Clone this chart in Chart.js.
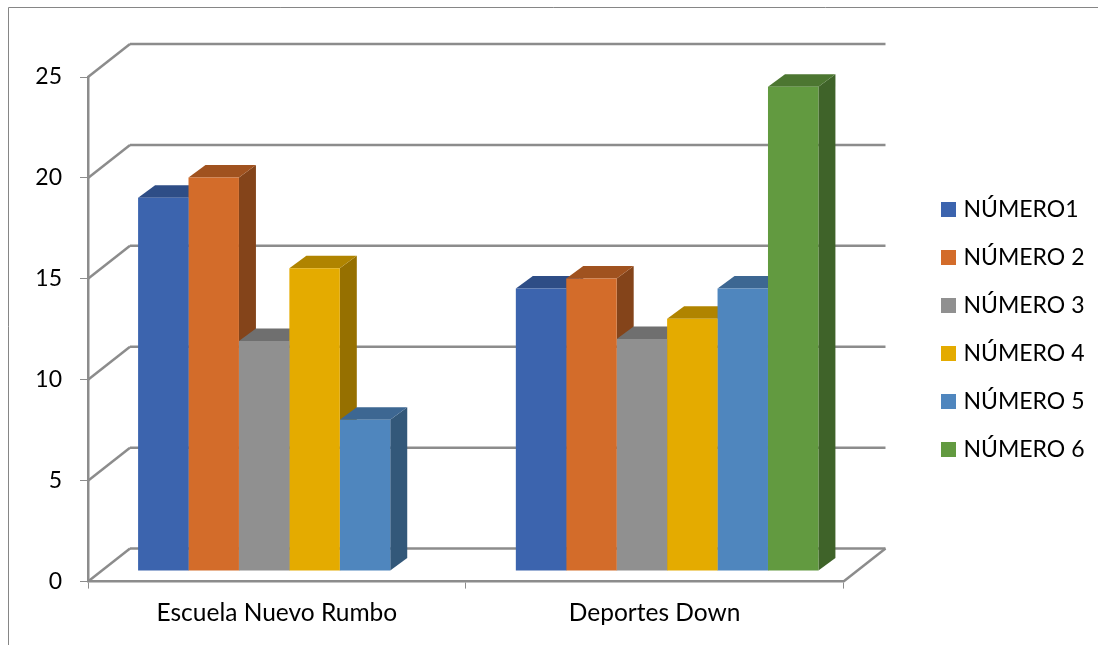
<!DOCTYPE html>
<html>
<head>
<meta charset="utf-8">
<title>Chart</title>
<script src="https://cdn.jsdelivr.net/npm/chart.js@4"></script>
<style>
    body { margin: 0; background: #fff; }
    canvas { display: block; }
</style>
</head>
<body>
<canvas id="barChart" width="1098" height="645"></canvas>
<script>
const CATEGORIES = ['Escuela Nuevo Rumbo', 'Deportes Down'];
const SERIES_NAMES = ['NÚMERO1', 'NÚMERO 2', 'NÚMERO 3', 'NÚMERO 4', 'NÚMERO 5', 'NÚMERO 6'];

const NUMERO_1 = [18.5, 14];
const NUMERO_2 = [19.5, 14.5];
const NUMERO_3 = [11.4, 11.5];
const NUMERO_4 = [15, 12.5];
const NUMERO_5 = [7.5, 14];
const NUMERO_6 = [null, 24];

const Y_TICK_STEP = 5;
const Y_MAX = 25;

const FRONT_COLORS = ['#3C64AE', '#D36C2A', '#909090', '#E4AB00', '#4F86BE', '#629A40'];
const TOP_COLORS = ['#2E4D86', '#A0521F', '#6F6F6F', '#B08400', '#3D6792', '#4C7631'];
const SIDE_COLORS = ['#274270', '#84441A', '#5E5E5E', '#967000', '#335879', '#3F6329'];

const AXIS_COLOR = '#8C8C8C';
const AXIS_WIDTH = 2.5;
const FONT_FAMILY = 'Lato, "Open Sans", sans-serif';

// Box depth of the plot floor and of the columns
const WALL_DX = 42;
const WALL_DY = -33;
const BAR_DX = 17;
const BAR_DY = -12.5;
// Columns stand in the middle of the floor, not on the front edge
const BAR_SHIFT_X = 12.5;
const BAR_SHIFT_Y = -10.5;

function line(ctx, x1, y1, x2, y2) {
    ctx.beginPath();
    ctx.moveTo(x1, y1);
    ctx.lineTo(x2, y2);
    ctx.stroke();
}

function polygon(ctx, color, points) {
    ctx.fillStyle = color;
    ctx.beginPath();
    points.forEach(([x, y], i) => (i ? ctx.lineTo(x, y) : ctx.moveTo(x, y)));
    ctx.closePath();
    ctx.fill();
}

/* outer frame, only top and left edges are visible */
const framePlugin = {
    id: 'frame',
    beforeDraw(chart) {
        const ctx = chart.ctx;
        ctx.save();
        ctx.strokeStyle = '#868686';
        ctx.lineWidth = 1;
        line(ctx, 8.5, 645, 8.5, 7.5);
        line(ctx, 8.5, 7.5, 1098, 7.5);
        ctx.restore();
    }
};

/* back wall gridlines, the diagonals to the front axis and the floor edge */
const wallPlugin = {
    id: 'wall',
    beforeDatasetsDraw(chart) {
        const ctx = chart.ctx;
        const { left, right } = chart.chartArea;
        const yScale = chart.scales.y;

        ctx.save();
        ctx.strokeStyle = AXIS_COLOR;
        ctx.lineWidth = AXIS_WIDTH;
        for (let v = 0; v <= Y_MAX; v += Y_TICK_STEP) {
            const y = yScale.getPixelForValue(v);
            line(ctx, left, y, left + WALL_DX, y + WALL_DY);
            line(ctx, left + WALL_DX, y + WALL_DY, right + WALL_DX, y + WALL_DY);
        }
        const floorY = yScale.getPixelForValue(0);
        line(ctx, right, floorY, right + WALL_DX, floorY + WALL_DY);
        ctx.restore();
    }
};

/* top and side faces of every column, fronts are painted over them by the bars */
const columnPlugin = {
    id: 'columns',
    beforeDatasetsDraw(chart) {
        const ctx = chart.ctx;
        ctx.save();
        ctx.translate(BAR_SHIFT_X, BAR_SHIFT_Y);
        chart.data.datasets.forEach((ds, d) => {
            chart.getDatasetMeta(d).data.forEach((bar, i) => {
                if (ds.data[i] === null) return;
                const x1 = bar.x - bar.width / 2;
                const x2 = bar.x + bar.width / 2;
                polygon(ctx, SIDE_COLORS[d], [
                    [x2, bar.y], [x2 + BAR_DX, bar.y + BAR_DY],
                    [x2 + BAR_DX, bar.base + BAR_DY], [x2, bar.base]
                ]);
                polygon(ctx, TOP_COLORS[d], [
                    [x1, bar.y], [x1 + BAR_DX, bar.y + BAR_DY],
                    [x2 + BAR_DX, bar.y + BAR_DY], [x2, bar.y]
                ]);
            });
        });
    },
    afterDatasetsDraw(chart) {
        chart.ctx.restore();
    }
};

/* legend column: fixed left edge, centred a little below the middle of the canvas */
const legendPlugin = {
    id: 'legendPlace',
    afterLayout(chart) {
        const legend = chart.legend;
        const h = legend.bottom - legend.top;
        const w = legend.right - legend.left;
        legend.top = 329.5 - h / 2;
        legend.bottom = legend.top + h;
        legend.left = 920;
        legend.right = legend.left + w;
    }
};

const seriesValues = [NUMERO_1, NUMERO_2, NUMERO_3, NUMERO_4, NUMERO_5, NUMERO_6];

new Chart(document.getElementById('barChart'), {
    type: 'bar',
    data: {
        labels: CATEGORIES,
        datasets: SERIES_NAMES.map((name, i) => ({
            label: name,
            data: seriesValues[i],
            backgroundColor: FRONT_COLORS[i],
            borderWidth: 0,
            clip: false,
            categoryPercentage: 0.801,
            barPercentage: 1
        }))
    },
    plugins: [framePlugin, wallPlugin, columnPlugin, legendPlugin],
    options: {
        responsive: false,
        animation: false,
        layout: { padding: { top: 77, bottom: 7, left: 0, right: 80 } },
        scales: {
            x: {
                border: { color: AXIS_COLOR, width: AXIS_WIDTH },
                grid: { drawOnChartArea: false, color: AXIS_COLOR, tickLength: 7, tickWidth: 1 },
                ticks: { color: '#000', padding: 10, maxRotation: 0, font: { family: FONT_FAMILY, size: 24.5 } }
            },
            y: {
                min: 0,
                max: Y_MAX,
                afterFit(scale) { scale.width = 88; },
                border: { color: AXIS_COLOR, width: AXIS_WIDTH },
                grid: { drawOnChartArea: false, color: AXIS_COLOR, tickLength: 8, tickWidth: 1 },
                ticks: { stepSize: Y_TICK_STEP, color: '#000', padding: 18, font: { family: FONT_FAMILY, size: 23 } }
            }
        },
        plugins: {
            tooltip: { enabled: false },
            legend: {
                position: 'right',
                labels: {
                    usePointStyle: true,
                    pointStyle: 'rect',
                    boxWidth: 7,
                    boxHeight: 15,
                    padding: 25,
                    color: '#000',
                    font: { family: FONT_FAMILY, size: 23 }
                }
            }
        }
    }
});
</script>
</body>
</html>
